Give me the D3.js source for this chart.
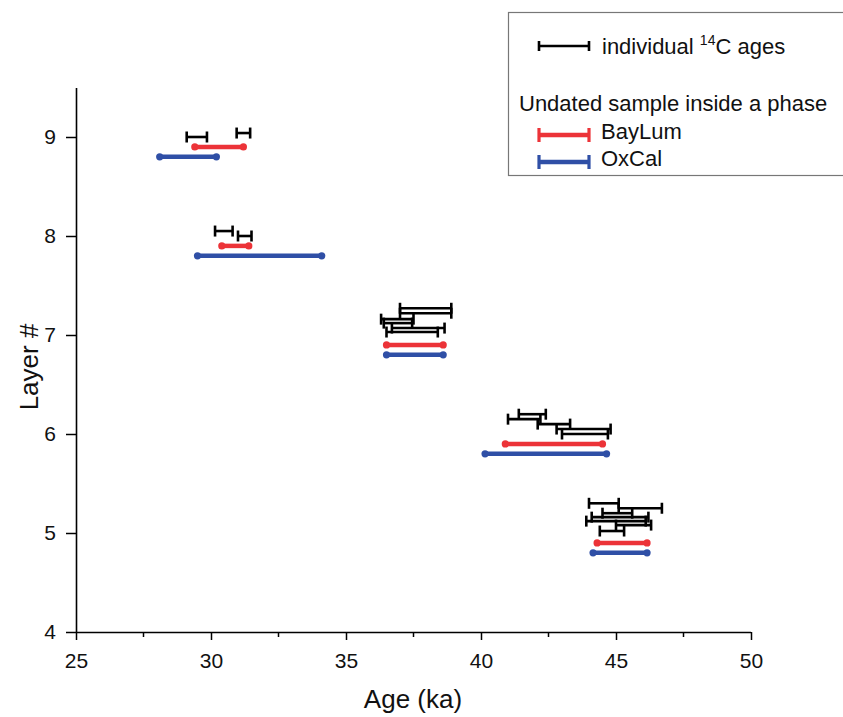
<!DOCTYPE html>
<html>
<head>
<meta charset="utf-8">
<script src="https://cdn.jsdelivr.net/npm/d3@7/dist/d3.min.js"></script>
<style>
  html, body { margin: 0; padding: 0; background: #fff; }
  svg { display: block; font-family: "Liberation Sans", Arial, sans-serif; }
</style>
</head>
<body>
<svg id="chart" width="843" height="717"></svg>
<script>
// ---- Data ----
const xTicks = [25, 30, 35, 40, 45, 50];
const yTicks = [4, 5, 6, 7, 8, 9];

// individual 14C ages: [plotted layer position, min age, max age]
const c14Ages = [
  [9.04, 30.95, 31.45],
  [9.00, 29.1, 29.85],
  [8.05, 30.15, 30.8],
  [8.00, 31.0, 31.5],
  [7.27, 37.0, 38.9],
  [7.22, 37.0, 38.9],
  [7.16, 36.3, 37.5],
  [7.12, 36.4, 37.45],
  [7.07, 36.7, 38.65],
  [7.03, 36.5, 38.4],
  [6.20, 41.4, 42.4],
  [6.15, 41.0, 42.2],
  [6.10, 42.1, 43.3],
  [6.05, 42.8, 44.8],
  [6.00, 43.0, 44.7],
  [5.30, 44.0, 45.1],
  [5.25, 45.1, 46.7],
  [5.20, 44.5, 45.6],
  [5.16, 44.1, 46.2],
  [5.12, 43.9, 46.1],
  [5.08, 45.0, 46.3],
  [5.02, 44.4, 45.3]
];

// BayLum: [plotted position, min, max]
const bayLum = [
  [8.9, 29.4, 31.2],
  [7.9, 30.4, 31.4],
  [6.9, 36.5, 38.6],
  [5.9, 40.9, 44.5],
  [4.9, 44.3, 46.15]
];

// OxCal: [plotted position, min, max]
const oxCal = [
  [8.8, 28.1, 30.2],
  [7.8, 29.5, 34.1],
  [6.8, 36.5, 38.6],
  [5.8, 40.15, 44.65],
  [4.8, 44.15, 46.15]
];

const RED = "#ec3338";
const BLUE = "#2f4fa6";

// ---- Chart ----
const svg = d3.select("#chart");
const x = d3.scaleLinear().domain([25, 50]).range([76, 751]);
const y = d3.scaleLinear().domain([4, 9.5]).range([632, 87.5]);

// minor x ticks
const minor = d3.range(27.5, 50, 5);
svg.append("g").selectAll("line").data(minor).join("line")
  .attr("x1", d => x(d)).attr("x2", d => x(d))
  .attr("y1", y(4)).attr("y2", y(4) + 5)
  .attr("stroke", "#000").attr("stroke-width", 1.5);

const xAxis = svg.append("g")
  .attr("transform", `translate(0,${y(4)})`)
  .call(d3.axisBottom(x).tickValues(xTicks).tickFormat(d3.format("d")).tickSize(8).tickPadding(13).tickSizeOuter(0));
const yAxis = svg.append("g")
  .attr("transform", `translate(${x(25)},0)`)
  .call(d3.axisLeft(y).tickValues(yTicks).tickFormat(d3.format("d")).tickSize(10).tickPadding(10).tickSizeOuter(0));

[xAxis, yAxis].forEach(g => {
  g.select(".domain").attr("stroke", "#000").attr("stroke-width", 1.6);
  g.selectAll(".tick line").attr("stroke", "#000").attr("stroke-width", 1.5);
  g.selectAll(".tick text").attr("font-size", 21).attr("fill", "#111")
    .attr("font-family", "'Liberation Sans', Arial, sans-serif");
});
xAxis.select(".domain").attr("d", `M${x(25)},0.5H${x(50)}`);

// axis titles
svg.append("text")
  .attr("x", 413).attr("y", 708)
  .attr("text-anchor", "middle").attr("font-size", 26).attr("fill", "#111")
  .text("Age (ka)");
svg.append("text")
  .attr("transform", `translate(38,367) rotate(-90)`)
  .attr("text-anchor", "middle").attr("font-size", 26).attr("fill", "#111")
  .text("Layer #");

// phase bars (OxCal, BayLum)
function phaseBars(data, color) {
  const g = svg.append("g");
  g.selectAll("line").data(data).join("line")
    .attr("x1", d => x(d[1])).attr("x2", d => x(d[2]))
    .attr("y1", d => y(d[0])).attr("y2", d => y(d[0]))
    .attr("stroke", color).attr("stroke-width", 4.5);
  const ends = data.flatMap(d => [[d[0], d[1]], [d[0], d[2]]]);
  g.selectAll("circle").data(ends).join("circle")
    .attr("cx", d => x(d[1])).attr("cy", d => y(d[0]))
    .attr("r", 3.6).attr("fill", color);
}
phaseBars(oxCal, BLUE);
phaseBars(bayLum, RED);

// individual 14C error bars
const eb = svg.append("g").attr("stroke", "#000").attr("stroke-width", 2.6);
eb.selectAll("line.h").data(c14Ages).join("line").attr("class", "h")
  .attr("x1", d => x(d[1])).attr("x2", d => x(d[2]))
  .attr("y1", d => y(d[0])).attr("y2", d => y(d[0]));
const caps = c14Ages.flatMap(d => [[d[0], d[1]], [d[0], d[2]]]);
eb.selectAll("line.c").data(caps).join("line").attr("class", "c")
  .attr("x1", d => x(d[1])).attr("x2", d => x(d[1]))
  .attr("y1", d => y(d[0]) - 5.5).attr("y2", d => y(d[0]) + 5.5);

// ---- Legend ----
const lg = svg.append("g");
lg.append("rect").attr("x", 508.5).attr("y", 12.5).attr("width", 345).attr("height", 163)
  .attr("fill", "#fff").attr("stroke", "#777").attr("stroke-width", 1.2);

function legendSym(yPos, color, w, capH) {
  lg.append("line").attr("x1", 539).attr("x2", 589).attr("y1", yPos).attr("y2", yPos)
    .attr("stroke", color).attr("stroke-width", w);
  [539, 589].forEach(xx => lg.append("line")
    .attr("x1", xx).attr("x2", xx).attr("y1", yPos - capH).attr("y2", yPos + capH)
    .attr("stroke", color).attr("stroke-width", w === 2.6 ? 2.6 : 3.2));
}
legendSym(46, "#000", 2.6, 5);
legendSym(135, RED, 4.5, 7);
legendSym(162, BLUE, 4.5, 7);

const t1 = lg.append("text").attr("x", 602).attr("y", 54).attr("font-size", 22).attr("fill", "#111");
t1.append("tspan").text("individual ");
t1.append("tspan").attr("font-size", 14).attr("dy", -9).text("14");
t1.append("tspan").attr("dy", 9).text("C ages");
lg.append("text").attr("x", 519).attr("y", 111).attr("font-size", 22).attr("fill", "#111")
  .text("Undated sample inside a phase");
lg.append("text").attr("x", 601).attr("y", 139).attr("font-size", 22).attr("fill", "#111")
  .text("BayLum");
lg.append("text").attr("x", 601).attr("y", 166).attr("font-size", 22).attr("fill", "#111")
  .text("OxCal");
</script>
</body>
</html>
